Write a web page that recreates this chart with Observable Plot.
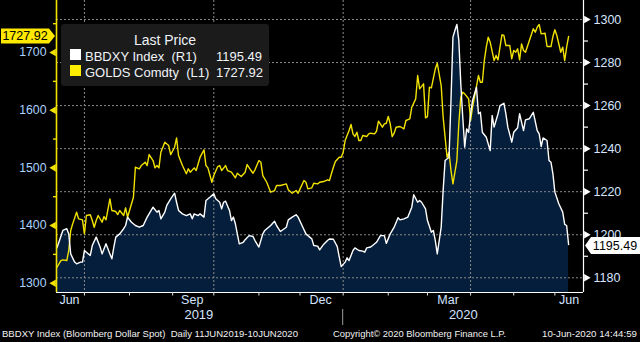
<!DOCTYPE html>
<html>
<head>
<meta charset="utf-8">
<script src="https://cdn.jsdelivr.net/npm/d3@7"></script>
<script src="https://cdn.jsdelivr.net/npm/@observablehq/plot@0.6"></script>
<style>
html,body{margin:0;padding:0;background:#000;}
#chart{position:relative;width:640px;height:342px;overflow:hidden;background:#000;}
</style>
</head>
<body>
<div id="chart"></div>
<script>
// ---------- DATA ----------
const bbdxyDates = ["2019-06-11","2019-06-14","2019-06-18","2019-06-19","2019-06-20","2019-06-24","2019-06-25","2019-06-27","2019-06-28","2019-07-01","2019-07-03","2019-07-04","2019-07-05","2019-07-09","2019-07-11","2019-07-12","2019-07-16","2019-07-18","2019-07-19","2019-07-22","2019-07-23","2019-07-25","2019-07-29","2019-07-30","2019-07-31","2019-08-02","2019-08-06","2019-08-08","2019-08-12","2019-08-14","2019-08-15","2019-08-19","2019-08-21","2019-08-22","2019-08-23","2019-08-27","2019-08-28","2019-08-30","2019-09-03","2019-09-04","2019-09-05","2019-09-09","2019-09-11","2019-09-13","2019-09-16","2019-09-17","2019-09-19","2019-09-20","2019-09-24","2019-09-25","2019-09-27","2019-10-01","2019-10-02","2019-10-04","2019-10-07","2019-10-08","2019-10-09","2019-10-11","2019-10-14","2019-10-15","2019-10-16","2019-10-18","2019-10-22","2019-10-23","2019-10-25","2019-10-29","2019-10-30","2019-11-01","2019-11-05","2019-11-06","2019-11-11","2019-11-13","2019-11-14","2019-11-18","2019-11-21","2019-11-22","2019-11-26","2019-11-28","2019-11-29","2019-12-03","2019-12-05","2019-12-06","2019-12-10","2019-12-11","2019-12-13","2019-12-16","2019-12-18","2019-12-20","2019-12-23","2019-12-25","2019-12-27","2019-12-30","2019-12-31","2020-01-02","2020-01-03","2020-01-06","2020-01-08","2020-01-09","2020-01-13","2020-01-15","2020-01-16","2020-01-17","2020-01-21","2020-01-22","2020-01-24","2020-01-28","2020-01-30","2020-01-31","2020-02-04","2020-02-06","2020-02-10","2020-02-11","2020-02-13","2020-02-17","2020-02-19","2020-02-20","2020-02-24","2020-02-25","2020-02-26","2020-02-28","2020-03-02","2020-03-04","2020-03-05","2020-03-06","2020-03-09","2020-03-11","2020-03-12","2020-03-13","2020-03-17","2020-03-18","2020-03-19","2020-03-20","2020-03-23","2020-03-24","2020-03-25","2020-03-26","2020-03-27","2020-03-30","2020-03-31","2020-04-01","2020-04-02","2020-04-06","2020-04-07","2020-04-08","2020-04-09","2020-04-13","2020-04-15","2020-04-16","2020-04-17","2020-04-21","2020-04-22","2020-04-24","2020-04-27","2020-04-28","2020-04-30","2020-05-01","2020-05-05","2020-05-06","2020-05-08","2020-05-11","2020-05-13","2020-05-14","2020-05-15","2020-05-19","2020-05-20","2020-05-21","2020-05-22","2020-05-26","2020-05-27","2020-05-28","2020-05-29","2020-06-01","2020-06-03","2020-06-05","2020-06-08","2020-06-09","2020-06-10"];
const bbdxyValues = [1194.0,1202.0,1202.8,1200.4,1191.1,1187.3,1186.5,1187.3,1187.3,1192.7,1191.1,1190.4,1195.0,1198.9,1194.3,1191.1,1195.8,1191.1,1188.8,1194.3,1198.9,1200.4,1202.8,1204.3,1208.2,1205.8,1204.3,1203.5,1204.3,1208.2,1209.7,1212.8,1210.5,1211.3,1207.4,1210.5,1213.6,1216.7,1219.3,1215.1,1211.3,1209.7,1208.9,1209.7,1207.4,1209.7,1208.9,1209.7,1208.2,1215.9,1217.4,1219.0,1216.7,1215.1,1212.0,1215.1,1215.6,1211.3,1206.6,1208.2,1205.1,1195.8,1196.5,1197.7,1199.6,1199.2,1197.3,1194.3,1200.4,1202.0,1204.3,1206.3,1204.3,1201.5,1203.5,1206.9,1208.2,1209.3,1208.2,1204.3,1200.4,1199.6,1198.1,1195.0,1194.7,1193.0,1195.5,1197.3,1198.0,1197.9,1194.5,1189.6,1185.2,1187.3,1189.3,1188.0,1192.7,1193.9,1192.7,1192.4,1191.9,1193.9,1194.3,1195.0,1196.5,1199.6,1199.6,1196.0,1200.4,1203.5,1207.9,1206.9,1207.4,1208.2,1212.8,1218.6,1215.1,1215.9,1215.1,1212.0,1206.6,1201.2,1202.0,1197.3,1191.1,1203.5,1220.6,1234.5,1236.0,1262.4,1291.8,1294.9,1297.7,1290.2,1270.1,1254.6,1240.7,1249.2,1247.6,1256.2,1262.4,1268.5,1256.2,1256.9,1247.6,1245.3,1239.1,1255.4,1250.0,1256.2,1260.0,1261.1,1256.2,1250.0,1243.0,1247.6,1249.7,1256.2,1248.4,1253.4,1253.9,1255.4,1256.9,1248.4,1246.9,1241.0,1245.0,1243.8,1234.5,1233.7,1228.3,1219.8,1214.4,1210.5,1204.8,1204.3,1195.49];

const goldDates = ["2019-06-11","2019-06-13","2019-06-14","2019-06-18","2019-06-19","2019-06-20","2019-06-21","2019-06-25","2019-06-26","2019-06-28","2019-07-01","2019-07-02","2019-07-04","2019-07-05","2019-07-08","2019-07-09","2019-07-10","2019-07-12","2019-07-15","2019-07-16","2019-07-18","2019-07-19","2019-07-23","2019-07-24","2019-07-25","2019-07-29","2019-07-30","2019-07-31","2019-08-05","2019-08-06","2019-08-08","2019-08-09","2019-08-13","2019-08-14","2019-08-15","2019-08-19","2019-08-20","2019-08-21","2019-08-22","2019-08-23","2019-08-27","2019-08-29","2019-08-30","2019-09-03","2019-09-04","2019-09-05","2019-09-09","2019-09-11","2019-09-12","2019-09-13","2019-09-17","2019-09-18","2019-09-20","2019-09-24","2019-09-25","2019-09-26","2019-09-30","2019-10-01","2019-10-03","2019-10-04","2019-10-07","2019-10-09","2019-10-10","2019-10-14","2019-10-16","2019-10-17","2019-10-21","2019-10-23","2019-10-24","2019-10-28","2019-10-29","2019-10-30","2019-11-01","2019-11-04","2019-11-05","2019-11-07","2019-11-11","2019-11-13","2019-11-14","2019-11-18","2019-11-21","2019-11-22","2019-11-26","2019-11-28","2019-11-29","2019-12-02","2019-12-04","2019-12-05","2019-12-06","2019-12-10","2019-12-11","2019-12-13","2019-12-16","2019-12-18","2019-12-20","2019-12-23","2019-12-24","2019-12-25","2019-12-26","2019-12-30","2019-12-31","2020-01-01","2020-01-02","2020-01-06","2020-01-07","2020-01-08","2020-01-09","2020-01-10","2020-01-13","2020-01-14","2020-01-15","2020-01-17","2020-01-20","2020-01-21","2020-01-23","2020-01-24","2020-01-27","2020-01-29","2020-01-30","2020-01-31","2020-02-03","2020-02-04","2020-02-05","2020-02-06","2020-02-07","2020-02-11","2020-02-13","2020-02-14","2020-02-18","2020-02-19","2020-02-21","2020-02-24","2020-02-25","2020-02-27","2020-02-28","2020-03-02","2020-03-03","2020-03-04","2020-03-06","2020-03-09","2020-03-11","2020-03-12","2020-03-16","2020-03-17","2020-03-18","2020-03-19","2020-03-23","2020-03-24","2020-03-25","2020-03-26","2020-03-27","2020-03-31","2020-04-01","2020-04-02","2020-04-03","2020-04-07","2020-04-08","2020-04-09","2020-04-10","2020-04-13","2020-04-14","2020-04-15","2020-04-17","2020-04-20","2020-04-21","2020-04-22","2020-04-23","2020-04-24","2020-04-27","2020-04-29","2020-04-30","2020-05-01","2020-05-04","2020-05-05","2020-05-06","2020-05-07","2020-05-08","2020-05-11","2020-05-13","2020-05-15","2020-05-18","2020-05-19","2020-05-20","2020-05-21","2020-05-25","2020-05-26","2020-05-28","2020-05-29","2020-06-01","2020-06-02","2020-06-04","2020-06-05","2020-06-08","2020-06-09","2020-06-10"];
const goldValues = [1327.7,1339.3,1340.5,1339.3,1356.7,1391.3,1402.9,1423.1,1411.6,1409.9,1385.6,1417.4,1418.6,1408.7,1397.1,1408.7,1417.4,1405.7,1415.6,1409.9,1446.3,1426.0,1424.3,1419.1,1426.0,1417.4,1430.7,1414.4,1449.1,1501.1,1498.3,1504.0,1509.8,1504.0,1523.1,1512.7,1500.0,1504.0,1500.0,1527.1,1544.5,1538.7,1523.1,1535.8,1552.0,1521.4,1504.0,1489.7,1498.3,1492.5,1500.0,1495.4,1518.5,1531.3,1504.0,1500.0,1475.1,1486.7,1502.3,1504.0,1495.4,1504.0,1495.4,1492.5,1482.7,1490.7,1485.0,1492.5,1505.8,1495.4,1490.7,1496.6,1512.7,1509.8,1486.7,1475.1,1457.8,1460.7,1469.4,1469.4,1472.3,1461.9,1456.0,1460.7,1456.0,1463.6,1478.0,1475.1,1463.6,1465.4,1473.4,1472.3,1475.1,1476.3,1479.3,1478.0,1489.7,1501.1,1511.0,1518.5,1518.5,1527.1,1547.4,1564.7,1575.2,1559.0,1554.3,1561.8,1547.4,1547.4,1556.1,1554.3,1559.0,1560.1,1559.0,1563.5,1580.9,1570.5,1576.4,1577.4,1589.0,1576.4,1554.3,1560.1,1570.5,1571.7,1567.7,1582.1,1585.0,1605.2,1619.7,1660.1,1637.0,1645.7,1586.8,1589.0,1639.8,1638.8,1671.7,1681.4,1642.8,1587.8,1518.5,1527.1,1495.4,1472.3,1512.7,1576.4,1622.5,1631.2,1628.4,1619.7,1582.1,1605.2,1622.5,1660.1,1648.5,1648.5,1686.1,1709.2,1726.5,1717.9,1686.1,1694.8,1687.3,1709.2,1730.7,1729.5,1712.1,1712.1,1689.1,1703.5,1700.5,1706.4,1687.3,1715.0,1703.5,1700.5,1720.8,1741.1,1735.2,1743.9,1748.6,1732.4,1733.5,1710.4,1710.4,1727.7,1739.4,1729.5,1700.5,1709.2,1686.1,1709.2,1727.92];

const leftTicks = [1300, 1400, 1500, 1600, 1700];
const leftMinorTicks = [1350, 1450, 1550, 1650, 1750];
const rightTicks = [1180, 1200, 1220, 1240, 1260, 1280, 1300];
const rightMinorTicks = [1190, 1210, 1230, 1250, 1270, 1290];
const monthTickDates = ["2019-07-01","2019-08-01","2019-09-01","2019-10-01","2019-11-01","2019-12-01","2020-01-01","2020-02-01","2020-03-01","2020-04-01","2020-05-01","2020-06-01"];
const gridDates = ["2019-07-01","2019-10-01","2020-01-01","2020-04-01"];
const monthLabels = ["Jun", "Sep", "Dec", "Mar", "Jun"];
const monthLabelDates = ["2019-06-01","2019-09-01","2019-12-01","2020-03-01","2020-06-01"];
const yearLabels = ["2019", "2020"];
const yearLabelDates = ["2019-01-01","2020-01-01"];
const seriesNames = ["BBDXY Index  (R1)", "GOLDS Comdty  (L1)"];
const legendTitle = "Last Price";
const footerLeft = "BBDXY Index (Bloomberg Dollar Spot)  Daily 11JUN2019-10JUN2020";
const footerMid = "Copyright\u00A9 2020 Bloomberg Finance L.P.";
const footerRight = "10-Jun-2020 14:44:59";

// ---------- HELPERS ----------
const parse = d3.utcParse("%Y-%m-%d");
const start = parse(bbdxyDates[0]);
const isWeekend = d => d.getUTCDay() === 0 || d.getUTCDay() === 6;
// trading-day (weekday) index, as Bloomberg plots without weekend gaps
function tIndex(date) {
  let n = 0;
  for (let t = d3.utcDay.offset(start, 1); t <= date; t = d3.utcDay.offset(t, 1)) if (!isWeekend(t)) n++;
  return n;
}
function firstIdx(date) { return date <= start ? -Infinity : tIndex(date) + (isWeekend(date) ? 1 : 0); }

const xDomain = [-0.25, 268.6];
const leftDomain = [1283.9, 1790.2];
const rightDomain = [1173.17, 1308.83];
const toLeft = v => leftDomain[0] + (v - rightDomain[0]) * (leftDomain[1] - leftDomain[0]) / (rightDomain[1] - rightDomain[0]);

const bb = bbdxyDates.map((d, i) => ({i: tIndex(parse(d)), v: toLeft(bbdxyValues[i])}));
const gold = goldDates.map((d, i) => ({i: tIndex(parse(d)), v: goldValues[i]}));
const monthTickIdx = monthTickDates.map(d => firstIdx(parse(d)));
const gridIdx = gridDates.map(d => firstIdx(parse(d)));
function periodCenter(d, interval) {
  const a = parse(d), b = interval.offset(a, 1);
  const lo = Math.max(xDomain[0], firstIdx(a));
  const hi = Math.min(xDomain[1], firstIdx(b) - 1);
  return (lo + hi) / 2;
}
const monthCenters = monthLabelDates.map(d => periodCenter(d, d3.utcMonth));
const yearCenters = yearLabelDates.map(d => periodCenter(d, d3.utcYear));

const yellow = "#f2e200";
const font = "'Liberation Sans', Arial, sans-serif";
const grid = "#8a8a8a";

const plot = Plot.plot({
  width: 640, height: 342,
  marginTop: 0, marginBottom: 50, marginLeft: 56, marginRight: 57,
  style: {background: "#000", fontFamily: font},
  x: {type: "linear", domain: xDomain, axis: null},
  y: {domain: leftDomain, axis: null},
  marks: [
    Plot.areaY(bb, {x: "i", y1: leftDomain[0], y2: "v", fill: "#041e3b"}),
    Plot.ruleY(rightTicks.map(toLeft), {stroke: grid, strokeDasharray: "2,2"}),
    Plot.ruleX(gridIdx, {stroke: grid, strokeDasharray: "2,2"}),
    Plot.lineY(gold, {x: "i", y: "v", stroke: yellow, strokeWidth: 1.4}),
    Plot.lineY(bb, {x: "i", y: "v", stroke: "#ffffff", strokeWidth: 1.4}),
    // axis lines
    Plot.ruleY([leftDomain[0]], {stroke: "#ffffff", strokeWidth: 1.2}),
    Plot.ruleX([xDomain[1]], {stroke: "#ffffff", strokeWidth: 1.2}),
    Plot.ruleX([xDomain[0]], {stroke: yellow, strokeWidth: 1.6}),
    // left axis
    Plot.axisY(leftMinorTicks, {anchor: "left", tickSize: 3, tickFormat: () => "", stroke: yellow, strokeWidth: 1.4, label: null}),
    Plot.dot(leftTicks, {y: d => d, frameAnchor: "left", dx: -2.8, symbol: "triangle", r: 2.8, rotate: -90, fill: yellow, stroke: null}),
    Plot.text(leftTicks, {y: d => d, text: d => String(d), frameAnchor: "left", dx: -10, textAnchor: "end", fill: "#a9d3ff", fontSize: 12.3}),
    // right axis
    Plot.axisY(rightMinorTicks.map(toLeft), {anchor: "right", tickSize: 4, tickFormat: () => "", stroke: "#ffffff", strokeWidth: 1.2, label: null}),
    Plot.dot(rightTicks.map(toLeft), {y: d => d, frameAnchor: "right", dx: 2.8, symbol: "triangle", r: 2.8, rotate: 90, fill: "#ffffff", stroke: null}),
    Plot.text(rightTicks, {y: d => toLeft(d), text: d => String(d), frameAnchor: "right", dx: 10, textAnchor: "start", fill: "#d6e6ff", fontSize: 12.5}),
    // bottom axis
    Plot.axisX(monthTickIdx, {anchor: "bottom", tickSize: 3.5, tickFormat: () => "", stroke: "#e0e0e0", label: null}),
    Plot.text(monthLabels, {x: monthCenters, text: d => d, frameAnchor: "bottom", dy: 11, fill: "#d3e4ff", fontSize: 12.5}),
    Plot.text(yearLabels, {x: yearCenters, text: d => d, frameAnchor: "bottom", dy: 26, fill: "#d3e4ff", fontSize: 13})
  ]
});

document.getElementById("chart").appendChild(plot);

// ---------- annotations (legend, last-price tags, footer) ----------
const svg = d3.select(plot);
const xs = plot.scale("x"), ys = plot.scale("y");

// year separator at the January boundary
const sepX = xs.apply(firstIdx(parse(yearLabelDates[1])));
svg.append("line").attr("x1", sepX).attr("x2", sepX).attr("y1", 309).attr("y2", 325)
  .attr("stroke", "#9a9a9a").attr("stroke-width", 1);

// legend
const lg = svg.append("g").attr("font-family", font).attr("text-anchor", "start");
lg.append("rect").attr("x", 61).attr("y", 24).attr("width", 208).attr("height", 62).attr("rx", 3).attr("fill", "#1b1b1b");
lg.append("text").attr("x", 165).attr("y", 45).attr("text-anchor", "middle").attr("font-size", 14).attr("fill", "#eef2f8").text(legendTitle);
const lastVals = [bbdxyValues[bbdxyValues.length - 1], goldValues[goldValues.length - 1]];
const swatch = ["#ffffff", "#ffee00"];
seriesNames.forEach((name, k) => {
  const base = 61 + k * 16;
  lg.append("rect").attr("x", 70).attr("y", base - 12).attr("width", 11).attr("height", 11).attr("fill", swatch[k]);
  lg.append("text").attr("x", 85).attr("y", base).attr("text-anchor", "start").attr("font-size", 13).attr("fill", "#f0f3f8").style("white-space", "pre").text(name);
  lg.append("text").attr("x", 216).attr("y", base).attr("text-anchor", "start").attr("font-size", 13).attr("fill", "#f0f3f8").text(lastVals[k].toFixed(2));
});

// last-price tags
const gy = ys.apply(lastVals[1]);
svg.append("path").attr("d", `M1,${gy - 7.5}H49L55,${gy}L49,${gy + 7.5}H1Z`).attr("fill", "#ffe900");
svg.append("text").attr("x", 25).attr("y", gy + 4.5).attr("text-anchor", "middle").attr("font-family", font).attr("font-size", 12.5).attr("fill", "#000").text(lastVals[1].toFixed(2));
const by = ys.apply(toLeft(lastVals[0])) + 1.5;
svg.append("path").attr("d", `M585,${by}L591,${by - 8.5}H640V${by + 8.5}H591Z`).attr("fill", "#ffffff");
svg.append("text").attr("x", 615).attr("y", by + 4.5).attr("text-anchor", "middle").attr("font-family", font).attr("font-size", 12.5).attr("fill", "#000").text(lastVals[0].toFixed(2));

// footer
const ft = svg.append("g").attr("font-family", font).attr("font-size", 9.8).attr("fill", "#f2f2f2").attr("text-anchor", "start");
ft.append("text").attr("x", 2).attr("y", 337).attr("textLength", 296).attr("lengthAdjust", "spacingAndGlyphs").style("white-space", "pre").text(footerLeft);
ft.append("text").attr("x", 333).attr("y", 337).attr("textLength", 173).attr("lengthAdjust", "spacingAndGlyphs").text(footerMid);
ft.append("text").attr("x", 542).attr("y", 337).attr("textLength", 95).attr("lengthAdjust", "spacingAndGlyphs").text(footerRight);
</script>
</body>
</html>
